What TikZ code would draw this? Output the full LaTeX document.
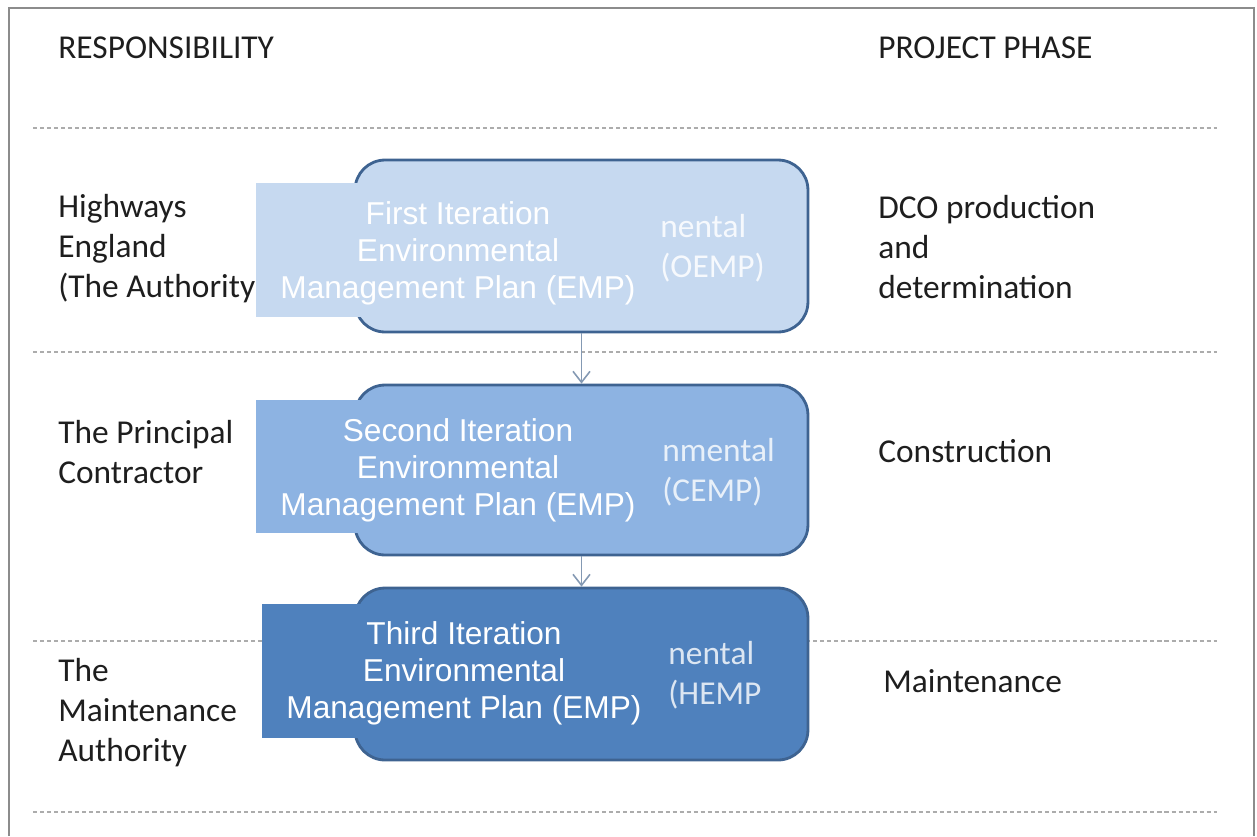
\documentclass[tikz,border=0pt]{standalone}
\usepackage{fontspec}
\setmainfont{Carlito}
\newfontfamily\coverfont{Liberation Sans}
\usetikzlibrary{arrows.meta}

\definecolor{planlight}{HTML}{C6D9F0}
\definecolor{planmid}{HTML}{8DB3E2}
\definecolor{plandark}{HTML}{4F81BD}
\definecolor{planedge}{HTML}{3E6391}
\definecolor{planarrow}{HTML}{8499B3}
\definecolor{labeltext}{HTML}{1E1E1E}

\tikzset{
  phasebox/.style={rounded corners=0.6cm, draw=planedge, line width=1.6pt,
    minimum width=9.06cm, minimum height=3.44cm, inner sep=0pt},
  coverbox/.style={minimum width=7.68cm, minimum height=2.68cm, inner sep=0pt},
  covertext/.style={inner sep=0pt, text=white, align=center,
    font=\coverfont\fontsize{18}{21}\selectfont},
  hiddentext/.style={anchor=west, align=left, inner sep=0pt,
    font=\fontsize{19}{22.8}\selectfont},
  rowlabel/.style={anchor=west, align=left, inner sep=0pt, text=labeltext,
    font=\fontsize{19}{22.8}\selectfont},
  sepline/.style={draw=gray!65, line width=0.85pt, dash pattern=on 2.3pt off 1.7pt},
  flow/.style={draw=planarrow, line width=0.9pt, -{Straight Barb[length=2.2mm,width=3.4mm]}}
}

\begin{document}
\begin{tikzpicture}[x=0.02cm, y=-0.02cm]
    \useasboundingbox (0,0) rectangle (1257,836);

    % Frame (open at the bottom)
    \draw[gray!90, line width=1.1pt] (9,836) -- (9,8) -- (1254,8) -- (1254,836);

    % Row separators
    \foreach \y in {128,352,641,812}
        \draw[sepline] (33,\y) -- (1217,\y);

    % Column headings
    \node[rowlabel] (resp) at (58,48) {RESPONSIBILITY};
    \node[rowlabel] (phase) at (878,48) {PROJECT PHASE};

    % Responsibility column
    \node[rowlabel] (authority) at (58,249) {Highways\\England\\(The Authority};
    \node[rowlabel] (contractor) at (58,452) {The Principal\\Contractor};
    \node[rowlabel] (maintauth) at (58,713) {The\\Maintenance\\Authority};

    % Project phase column
    \node[rowlabel] (dco) at (878,247) {DCO production\\and\\determination};
    \node[rowlabel] (construction) at (878,451) {Construction};
    \node[rowlabel] (maintenance) at (883,681) {Maintenance};

    % EMP boxes
    \node[phasebox, fill=planlight] (oemp) at (581.5,246) {};
    \node[phasebox, fill=planmid, minimum height=3.4cm] (cemp) at (581.5,470) {};
    \node[phasebox, fill=plandark] (hemp) at (581.5,674) {};

    % What is left of the original box texts
    \node[hiddentext, text=white!85!planlight] (oemptext) at (660,248) {nental\\(OEMP)};
    \node[hiddentext, text=white!80!planmid] (cemptext) at (662,472) {nmental\\(CEMP)};
    \node[hiddentext, text=white!80!plandark] (hemptext) at (668,675) {nental\\(HEMP};

    % Overlays
    \node[coverbox, fill=planlight] (first) at (448,250) {};
    \node[covertext] (firsttext) at (458,253) {First Iteration\\Environmental\\Management Plan (EMP)};
    \node[coverbox, fill=planmid] (second) at (448,466.5) {};
    \node[covertext] (secondtext) at (458,470.5) {Second Iteration\\Environmental\\Management Plan (EMP)};
    \node[coverbox, fill=plandark] (third) at (453.5,671) {};
    \node[covertext] (thirdtext) at (464,673) {Third Iteration\\Environmental\\Management Plan (EMP)};

    % Flow between the plans
    \draw[flow] (oemp.south) -- (cemp.north);
    \draw[flow] (cemp.south) -- (hemp.north);
\end{tikzpicture}
\end{document}
